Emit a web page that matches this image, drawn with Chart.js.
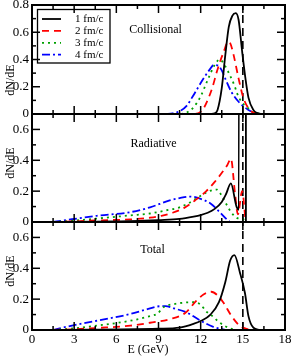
<!DOCTYPE html>
<html><head><meta charset="utf-8">
<script src="https://cdn.jsdelivr.net/npm/chart.js@4.4.0/dist/chart.umd.min.js"></script>
<style>
html,body{margin:0;padding:0;background:#fff;width:291px;height:357px;overflow:hidden;}
canvas{position:absolute;left:0;}
</style></head><body>
<canvas id="c1" width="291" height="124" style="top:0px"></canvas>
<canvas id="c2" width="291" height="128" style="top:104px"></canvas>
<canvas id="c3" width="291" height="145" style="top:212px"></canvas>
<script>
const seriesLabels = ['1 fm/c', '2 fm/c', '3 fm/c', '4 fm/c'];
const panelNames = ['Collisional', 'Radiative', 'Total'];
const xTickValues = [0, 3, 6, 9, 12, 15, 18];
const initialEnergy = 15;

// Collisional
const collE1 = [12.7, 13.0, 13.2, 13.5, 13.75, 14.0, 14.25, 14.5, 14.7, 14.95, 15.2, 15.4, 15.75, 16.0, 16.4];
const collN1 = [0, 0.005, 0.03, 0.19, 0.43, 0.64, 0.72, 0.74, 0.69, 0.46, 0.25, 0.12, 0.03, 0.008, 0];
const collE2 = [11.6, 11.9, 12.2, 12.55, 12.85, 13.15, 13.4, 13.65, 13.95, 14.1, 14.35, 14.7, 15.05, 15.5, 15.9, 16.3];
const collN2 = [0, 0.01, 0.04, 0.115, 0.2, 0.31, 0.39, 0.46, 0.53, 0.52, 0.43, 0.26, 0.115, 0.03, 0.005, 0];
const collE3 = [10.6, 11.0, 11.5, 12.0, 12.5, 13.0, 13.35, 13.75, 14.1, 14.4, 14.6, 14.9, 15.3, 15.7, 16.2];
const collN3 = [0, 0.01, 0.05, 0.13, 0.25, 0.36, 0.40, 0.35, 0.28, 0.21, 0.15, 0.09, 0.05, 0.015, 0];
const collE4 = [9.5, 10.0, 10.5, 11.0, 11.5, 12.2, 12.6, 12.95, 13.25, 13.5, 13.75, 14.2, 14.7, 15.4, 16.0];
const collN4 = [0, 0.005, 0.02, 0.06, 0.14, 0.26, 0.32, 0.36, 0.355, 0.32, 0.26, 0.16, 0.09, 0.03, 0];

// Radiative
const radE1 = [1.5, 4.5, 6, 8, 9, 10.5, 11.5, 12.0, 12.5, 13.0, 13.5, 13.8, 14.15, 14.55, 14.72, 14.75, 15.2, 15.22, 16];
const radN1 = [0, 0.002, 0.004, 0.008, 0.012, 0.02, 0.035, 0.045, 0.06, 0.085, 0.13, 0.18, 0.25, 0.1, 0.08, 6, 6, 0, 0];
const radE2 = [1.5, 3.0, 4.6, 7.0, 8.4, 9.2, 10.0, 10.8, 11.6, 12.4, 13.0, 13.6, 13.9, 14.15, 14.45, 14.65, 14.95, 15.2];
const radN2 = [0, 0.004, 0.01, 0.017, 0.028, 0.04, 0.06, 0.09, 0.14, 0.2, 0.26, 0.33, 0.37, 0.41, 0.18, 0.05, 0.2, 0];
const radE3 = [1.5, 2.5, 4.6, 7.0, 8.4, 9.5, 10.5, 11.2, 12.0, 12.6, 13.15, 13.5, 13.86, 14.2, 14.6, 15.0, 15.2];
const radN3 = [0, 0.005, 0.022, 0.043, 0.055, 0.075, 0.095, 0.125, 0.17, 0.2, 0.21, 0.17, 0.11, 0.06, 0.025, 0.02, 0];
const radE4 = [1.5, 2.25, 4.6, 7.0, 8.4, 9.8, 10.5, 11.25, 12.0, 12.7, 13.4, 13.86, 14.1];
const radN4 = [0, 0.01, 0.04, 0.064, 0.095, 0.14, 0.155, 0.165, 0.15, 0.12, 0.06, 0.017, 0];

// Total
const totE1 = [1.5, 9.0, 10.5, 11.5, 12.0, 12.7, 13.3, 13.75, 14.1, 14.4, 14.8, 15.15, 15.4, 15.75, 16.2];
const totN1 = [0, 0.008, 0.015, 0.04, 0.058, 0.1, 0.18, 0.31, 0.45, 0.485, 0.37, 0.24, 0.09, 0.015, 0];
const totE2 = [1.5, 3.0, 4.6, 7.0, 8.4, 9.8, 10.9, 11.7, 12.2, 12.75, 13.2, 13.6, 14.2, 14.8, 15.5];
const totN2 = [0, 0.005, 0.013, 0.028, 0.047, 0.07, 0.11, 0.19, 0.23, 0.248, 0.225, 0.18, 0.09, 0.026, 0];
const totE3 = [1.5, 2.9, 4.6, 7.0, 8.4, 8.9, 9.4, 10.1, 11.0, 11.5, 12.0, 12.4, 12.7, 13.4, 14.1, 14.6];
const totN3 = [0, 0.01, 0.028, 0.06, 0.09, 0.105, 0.15, 0.168, 0.179, 0.18, 0.165, 0.12, 0.1, 0.045, 0.01, 0];
const totE4 = [1.5, 2.25, 4.6, 7.0, 8.0, 8.9, 9.5, 10.1, 11.0, 12.0, 12.9, 13.8];
const totN4 = [0, 0.017, 0.06, 0.104, 0.13, 0.152, 0.155, 0.14, 0.114, 0.06, 0.02, 0];

const FONT = "'Liberation Serif', 'Times New Roman', serif";
const styles = [
  {color: '#000000', dash: []},
  {color: '#ff0000', dash: [7, 5]},
  {color: '#00a000', dash: [2, 4]},
  {color: '#0000ff', dash: [8, 3, 2, 3]}
];

function pts(xs, ys) { return xs.map((v, i) => ({x: v, y: ys[i]})); }

function makeDatasets(pairs, yMax) {
  const ds = pairs.map((p, i) => ({
    label: seriesLabels[i],
    data: pts(p[0], p[1]),
    borderColor: styles[i].color,
    borderDash: styles[i].dash,
    borderWidth: 1.8,
    pointRadius: 0,
    cubicInterpolationMode: 'monotone',
    fill: false
  }));
  ds.push({
    label: 'E0',
    data: [{x: initialEnergy, y: 0}, {x: initialEnergy, y: yMax}],
    borderColor: '#000',
    borderDash: [8, 5],
    borderWidth: 1.6,
    pointRadius: 0,
    fill: false
  });
  return ds;
}

const framePlugin = {
  id: 'frame',
  afterDatasetsDraw(chart, args, opts) {
    const {ctx, chartArea: a, scales: {x, y}} = chart;
    ctx.save();
    ctx.strokeStyle = '#000';
    ctx.lineWidth = 1.5;
    const line = (x1, y1, x2, y2) => { ctx.beginPath(); ctx.moveTo(x1, y1); ctx.lineTo(x2, y2); ctx.stroke(); };
    for (let k = 1; k < 12; k++) {
      const v = k * 1.5;
      const px = x.getPixelForValue(v);
      const L = (k % 2 === 0) ? 8 : 4;
      line(px, a.bottom, px, a.bottom - L);
      line(px, a.top, px, a.top + L);
    }
    const nY = Math.round(y.max / 0.1);
    for (let k = 1; k < nY; k++) {
      const py = y.getPixelForValue(k * 0.1);
      const L = (k % 2 === 0) ? 8 : 4;
      line(a.left, py, a.left + L, py);
      line(a.right, py, a.right - L, py);
    }
    ctx.lineWidth = 2;
    ctx.strokeRect(a.left, a.top, a.right - a.left, a.bottom - a.top);

    ctx.fillStyle = '#000';
    ctx.font = '12px ' + FONT;
    ctx.textAlign = 'center';
    ctx.textBaseline = 'middle';
    ctx.fillText(opts.name, opts.nameX, a.top + opts.nameDy);
    ctx.save();
    ctx.translate(11, a.top + opts.yTitleDy);
    ctx.rotate(-Math.PI / 2);
    ctx.fillText('dN/dE', 0, 0);
    ctx.restore();

    if (opts.xTitle) {
      ctx.fillText(opts.xTitle, 148, a.bottom + 20);
    }

    if (opts.legend) {
      ctx.lineWidth = 1.3;
      ctx.strokeRect(37.5, 9.5, 72.5, 53.5);
      ctx.font = '11px ' + FONT;
      ctx.textAlign = 'left';
      chart.data.datasets.slice(0, 4).forEach((d, i) => {
        const ly = 19 + i * 11.9;
        ctx.strokeStyle = d.borderColor;
        ctx.setLineDash(d.borderDash);
        ctx.lineWidth = 1.8;
        line(42, ly, 61, ly);
        ctx.setLineDash([]);
        ctx.fillText(d.label, 75, ly + 0.5);
      });
    }
    ctx.restore();
  }
};

function yScale(max) {
  return {
    type: 'linear', min: 0, max: max,
    grid: {display: false, drawTicks: false},
    border: {display: false},
    ticks: {stepSize: 0.2, padding: 3, color: '#000', font: {family: FONT, size: 13}},
    afterBuildTicks(s) { s.ticks = s.ticks.filter(t => Math.abs(t.value / 0.2 - Math.round(t.value / 0.2)) < 1e-6); },
    afterFit(s) { s.width = 32; s.paddingTop = 0; s.paddingBottom = 0; }
  };
}

function makeChart(id, pairs, yMax, padTop, padBottom, showX, opts) {
  const xs = {
    type: 'linear', min: 0, max: 18,
    display: showX,
    grid: {display: false, drawTicks: false},
    border: {display: false},
    ticks: {stepSize: 3, padding: 2, color: '#000', font: {family: FONT, size: 13}},
    title: {display: false},
    afterFit(s) { if (showX) { s.height = 27; } s.paddingLeft = 0; s.paddingRight = 0; }
  };
  return new Chart(document.getElementById(id), {
    type: 'line',
    data: {datasets: makeDatasets(pairs, yMax)},
    options: {
      responsive: false, animation: false, devicePixelRatio: 1,
      layout: {padding: {top: padTop, bottom: padBottom, left: 0, right: 6}},
      scales: {x: xs, y: yScale(yMax)},
      plugins: {legend: {display: false}, tooltip: {enabled: false}, frame: opts}
    },
    plugins: [framePlugin]
  });
}

makeChart('c1', [[collE1, collN1], [collE2, collN2], [collE3, collN3], [collE4, collN4]], 0.8, 5, 10, false,
  {name: panelNames[0], nameX: 155.5, nameDy: 25, yTitleDy: 75, legend: true});
makeChart('c2', [[radE1, radN1], [radE2, radN2], [radE3, radN3], [radE4, radN4]], 0.7, 10, 10, false,
  {name: panelNames[1], nameX: 153.5, nameDy: 30, yTitleDy: 49, legend: false});
makeChart('c3', [[totE1, totN1], [totE2, totN2], [totE3, totN3], [totE4, totN4]], 0.7, 10, 0, true,
  {name: panelNames[2], nameX: 152.5, nameDy: 28, yTitleDy: 49, legend: false, xTitle: 'E (GeV)'});
</script>
</body></html>
